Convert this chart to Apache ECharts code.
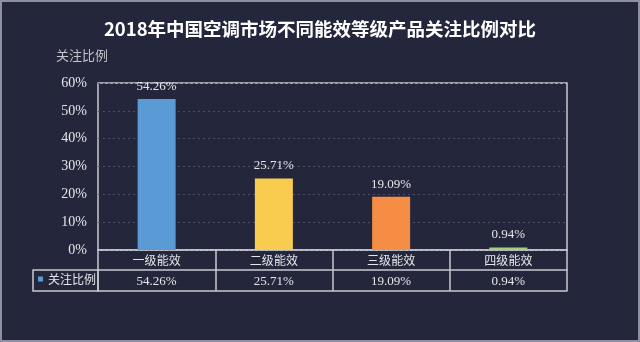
<!DOCTYPE html>
<html>
<head>
<meta charset="utf-8">
<script src="https://cdn.jsdelivr.net/npm/echarts@6/dist/echarts.min.js"></script>
<style>
  html, body { margin: 0; padding: 0; background: #24263c; }
  #chart { width: 640px; height: 342px; }
</style>
</head>
<body>
<div id="chart"></div>
<script>
// Energy-efficiency grades and their share of attention (%)
const categories = ['一级能效', '二级能效', '三级能效', '四级能效'];
const shareValues = [54.26, 25.71, 19.09, 0.94];
const barColors = ['#5b9bd5', '#f9cb4f', '#f68d45', '#9fcf7f'];
const seriesName = '关注比例';
const yTicks = [0, 10, 20, 30, 40, 50, 60];

const serif = '"Liberation Serif", "Times New Roman", serif';
const cjk = '"Noto Sans CJK SC", sans-serif';
const lineColor = '#c8c9d0';
const textColor = '#e6e6ea';

const fmt = v => v.toFixed(2) + '%';

const chart = echarts.init(document.getElementById('chart'));

chart.setOption({
  backgroundColor: '#24263c',
  animation: false,
  title: {
    text: '2018年中国空调市场不同能效等级产品关注比例对比',
    left: 'center',
    top: 20,
    padding: 0,
    textStyle: { color: '#ffffff', fontSize: 18.5, fontWeight: 'bold', fontFamily: cjk }
  },
  legend: {
    data: [seriesName],
    left: 38,
    top: 273,
    padding: 0,
    itemWidth: 5,
    itemHeight: 5,
    icon: 'rect',
    textStyle: { color: textColor, fontSize: 12, fontFamily: cjk }
  },
  grid: {
    left: 98, right: 73, top: 83, bottom: 92,
    show: true, borderColor: lineColor, borderWidth: 1.5, backgroundColor: 'transparent'
  },
  xAxis: [
    {
      type: 'category',
      data: categories,
      position: 'bottom',
      axisLine: { show: true, lineStyle: { color: lineColor, width: 1.5 } },
      axisTick: { show: true, length: 41, lineStyle: { color: lineColor, width: 1.5 } },
      axisLabel: { color: textColor, fontSize: 12, fontFamily: cjk, margin: 4 }
    },
    {
      type: 'category',
      data: shareValues.map(fmt),
      position: 'bottom',
      offset: 20,
      axisLine: { show: true, lineStyle: { color: lineColor, width: 1.5 } },
      axisTick: { show: false },
      axisLabel: { color: textColor, fontSize: 13, fontFamily: serif, margin: 5 }
    },
    {
      type: 'category',
      data: categories,
      position: 'bottom',
      offset: 41,
      axisLine: { show: true, lineStyle: { color: lineColor, width: 1.5 } },
      axisTick: { show: false },
      axisLabel: { show: false }
    }
  ],
  yAxis: {
    type: 'value',
    name: seriesName,
    nameLocation: 'end',
    nameGap: 21,
    nameTextStyle: { color: '#c3c4cc', fontSize: 13, fontFamily: cjk, align: 'right', padding: [0, -10, 0, 0] },
    min: yTicks[0],
    max: yTicks[yTicks.length - 1],
    interval: 10,
    axisLine: { show: false },
    axisTick: { show: false },
    axisLabel: { color: textColor, fontSize: 14, fontFamily: serif, margin: 11, formatter: v => v + '%' },
    splitLine: { show: true, lineStyle: { color: '#4b4e66', type: [2, 3], width: 1 } }
  },
  series: [{
    name: seriesName,
    type: 'bar',
    xAxisIndex: 0,
    barWidth: 38,
    itemStyle: { color: '#5b9bd5' },
    data: shareValues.map((v, i) => ({ value: v, itemStyle: { color: barColors[i] } })),
    label: {
      show: true,
      position: 'top',
      distance: 6,
      color: textColor,
      fontSize: 13,
      fontFamily: serif,
      formatter: p => fmt(p.value)
    }
  }],
  graphic: [
    {
      type: 'rect',
      shape: { x: 33, y: 270, width: 65, height: 21 },
      style: { fill: 'transparent', stroke: lineColor, lineWidth: 1.5 }
    },
    {
      type: 'rect',
      shape: { x: 1, y: 1, width: 638, height: 340 },
      style: { fill: 'transparent', stroke: '#8e90a0', lineWidth: 2 },
      silent: true
    }
  ]
});
</script>
</body>
</html>
